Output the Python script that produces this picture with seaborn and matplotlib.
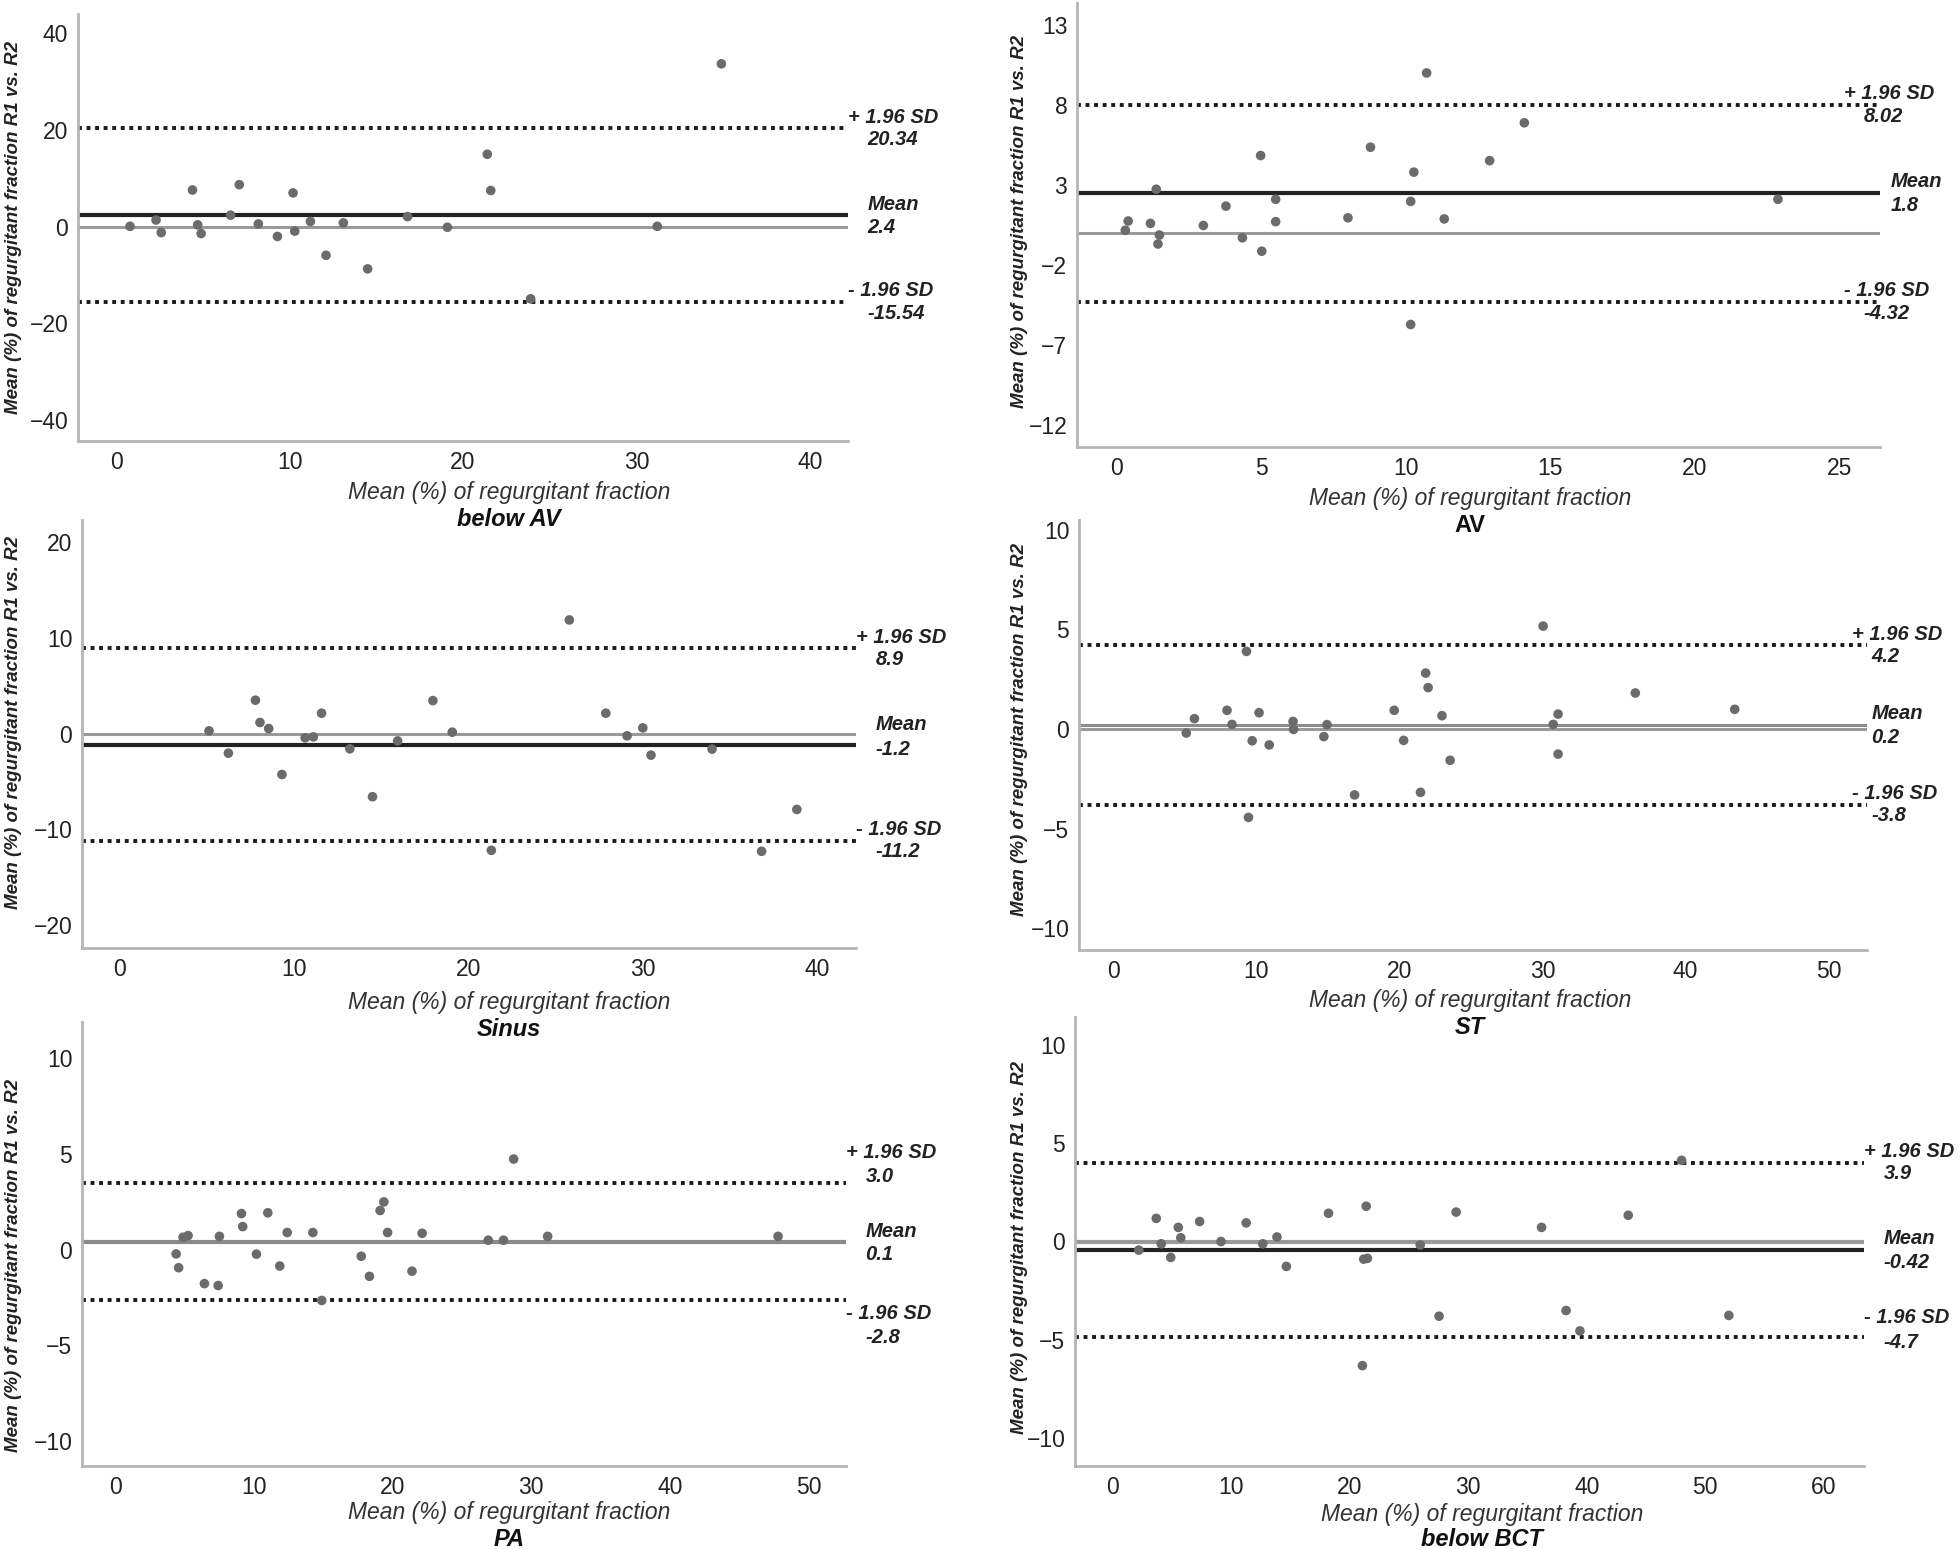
import seaborn as sns
import matplotlib.pyplot as plt
import pandas as pd

# ---- datos ----
below_av_x = [0.8, 2.3, 2.6, 4.4, 4.7, 4.9, 6.6, 7.1, 8.2, 9.3, 10.2, 10.3, 11.2, 12.1,
              13.1, 14.5, 16.8, 19.1, 21.4, 21.6, 23.9, 31.2, 34.9]
below_av_y = [0.1, 1.4, -1.2, 7.6, 0.4, -1.4, 2.4, 8.7, 0.6, -2.0, 7.0, -0.9, 1.1, -5.9,
              0.8, -8.7, 2.1, -0.1, 15.0, 7.5, -14.9, 0.1, 33.7]

av_x = [0.3, 0.4, 1.17, 1.37, 1.48, 1.43, 3.0, 3.78, 4.35, 4.98, 5.02, 5.5, 5.5, 8.0,
        8.78, 10.17, 10.28, 10.17, 10.72, 11.33, 12.9, 14.1, 22.87]
av_y = [0.17, 0.75, 0.6, 2.74, -0.13, -0.69, 0.47, 1.68, -0.3, 4.85, -1.14, 2.11, 0.71, 0.95,
        5.37, 1.98, 3.81, -5.73, 10.02, 0.88, 4.53, 6.9, 2.11]

sinus_x = [5.12, 6.23, 7.78, 8.04, 8.54, 9.3, 10.63, 11.1, 11.57, 13.19, 14.49, 15.93,
           17.95, 19.06, 21.3, 25.77, 27.86, 29.08, 29.98, 30.45, 33.95, 36.79, 38.81]
sinus_y = [0.28, -2.05, 3.48, 1.15, 0.52, -4.28, -0.45, -0.35, 2.12, -1.6, -6.6, -0.77,
           3.44, 0.14, -12.2, 11.86, 2.12, -0.24, 0.59, -2.26, -1.63, -12.3, -7.93]

st_x = [5.1, 5.67, 7.95, 8.3, 9.31, 9.45, 9.71, 10.19, 10.9, 12.57, 12.6, 14.72, 14.94,
        16.87, 19.64, 20.3, 21.48, 21.84, 22.01, 22.98, 23.55, 30.05, 30.76, 31.1, 31.1,
        36.5, 43.45]
st_y = [-0.2, 0.52, 0.94, 0.23, 3.9, -4.44, -0.59, 0.82, -0.8, 0.38, -0.02, -0.38, 0.22,
        -3.31, 0.94, -0.57, -3.18, 2.81, 2.08, 0.67, -1.57, 5.17, 0.23, 0.75, -1.26,
        1.81, 0.99]

pa_x = [4.39, 4.57, 4.89, 5.25, 6.43, 7.42, 7.51, 9.1, 9.19, 10.18, 11.0, 11.86, 12.4,
        14.25, 14.89, 17.74, 18.33, 19.1, 19.37, 19.64, 21.4, 22.13, 26.9, 28.0, 28.73,
        31.18, 47.8]
pa_y = [-0.22, -0.94, 0.65, 0.74, -1.77, -1.87, 0.7, 1.89, 1.21, -0.23, 1.93, -0.85, 0.9,
        0.9, -2.65, -0.34, -1.39, 2.05, 2.5, 0.9, -1.12, 0.86, 0.5, 0.5, 4.74, 0.7, 0.7]

below_bct_x = [2.18, 3.66, 4.08, 4.88, 5.52, 5.73, 7.32, 9.12, 11.25, 12.65, 13.85, 14.64,
               18.2, 21.17, 21.38, 21.48, 21.06, 25.94, 27.53, 28.97, 36.18, 38.25, 39.42,
               43.5, 48.0, 51.99]
below_bct_y = [-0.44, 1.18, -0.12, -0.81, 0.72, 0.19, 1.02, 0.0, 0.95, -0.12, 0.23, -1.27,
               1.44, -0.9, 1.8, -0.86, -6.33, -0.18, -3.81, 1.5, 0.72, -3.52, -4.56,
               1.34, 4.14, -3.77]

titles = ["below AV", "AV", "Sinus", "ST", "PA", "below BCT"]
xs = [below_av_x, av_x, sinus_x, st_x, pa_x, below_bct_x]
ys = [below_av_y, av_y, sinus_y, st_y, pa_y, below_bct_y]

# líneas: +1.96 SD, media, -1.96 SD (posición dibujada) y textos
upper_pos = [20.34, 8.02, 8.9, 4.2, 3.48, 4.02]
mean_pos = [2.4, 2.5, -1.2, 0.2, 0.38, -0.42]
lower_pos = [-15.54, -4.32, -11.2, -3.8, -2.61, -4.85]
upper_txt = ["20.34", "8.02", "8.9", "4.2", "3.0", "3.9"]
mean_txt = ["2.4", "1.8", "-1.2", "0.2", "0.1", "-0.42"]
lower_txt = ["-15.54", "-4.32", "-11.2", "-3.8", "-2.8", "-4.7"]

yticks = [[-40, -20, 0, 20, 40], [-12, -7, -2, 3, 8, 13], [-20, -10, 0, 10, 20],
          [-10, -5, 0, 5, 10], [-10, -5, 0, 5, 10], [-10, -5, 0, 5, 10]]
xticks = [[0, 10, 20, 30, 40], [0, 5, 10, 15, 20, 25], [0, 10, 20, 30, 40],
          [0, 10, 20, 30, 40, 50], [0, 10, 20, 30, 40, 50], [0, 10, 20, 30, 40, 50, 60]]

# ---- estilo / layout ----
W, H = 1960, 1549
ylims = [(-44.3, 44), (-13.4, 14.4), (-22.4, 22.3), (-11.1, 10.5), (-11.3, 11.9), (-11.45, 11.45)]
xlims = [(-2.2, 42.2), (-1.37, 26.4), (-2.16, 42.2), (-2.4, 52.7), (-2.4, 52.7), (-3.2, 63.4)]
# caja de ejes en píxeles: izquierda, arriba, derecha, abajo
boxes = [(78, 14, 848, 441), (1077, 3, 1880, 447), (82, 520, 856, 948),
         (1079, 520, 1867, 950), (82, 1022, 846, 1466), (1075, 1017, 1864, 1466)]
label_pos = [(509, 493, 519), (1470, 498, 526), (509, 1003, 1030),
             (1470, 1000, 1027), (509, 1513, 1539), (1482, 1514, 1539)]
ylabel_pos = [(14, 227), (1019, 221), (14, 723), (1019, 730), (14, 1266), (1019, 1248)]
head_dx = [0, -26, 0, -11, 0, 0]

sns.set_style("white")
narrow = ["Liberation Sans Narrow", "Liberation Sans", "DejaVu Sans"]
wide = ["Liberation Sans", "DejaVu Sans"]
plt.rcParams["font.family"] = narrow

fig = plt.figure(figsize=(W / 100, H / 100), dpi=100)

for i in range(6):
    l, t, r, b = boxes[i]
    ax = fig.add_axes([l / W, 1 - b / H, (r - l) / W, (b - t) / H])
    df = pd.DataFrame({"x": xs[i], "y": ys[i]})

    # líneas de referencia
    if i != 4:
        ax.axhline(0, color="#9a9a9a", lw=2.2 if i != 5 else 3, zorder=1)
    mcol = "#222222"
    if i == 3:
        mcol = "#8c8c8c"
    if i == 4:
        mcol = "#8a8a8a"
    ax.axhline(mean_pos[i], color=mcol, lw=3 if i != 3 else 2.2, zorder=1)
    for yv in (upper_pos[i], lower_pos[i]):
        ax.axhline(yv, color="#1a1a1a", lw=2.8, ls=(0, (1, 1.2)), zorder=1)

    sns.scatterplot(data=df, x="x", y="y", ax=ax, color="#6b6b6b", s=48,
                    edgecolor="none", zorder=3)

    ax.set_xlim(*xlims[i])
    ax.set_ylim(*ylims[i])
    ax.set_xticks(xticks[i])
    ax.set_yticks(yticks[i])
    ax.set_xlabel("")
    ax.set_ylabel("")
    ax.tick_params(length=0, labelsize=16.5, colors="#222222", pad=7)
    for s in ("top", "right"):
        ax.spines[s].set_visible(False)
    for s in ("left", "bottom"):
        ax.spines[s].set_color("#b5b5b5")
        ax.spines[s].set_linewidth(2)

    # textos a la derecha
    lab_kw = dict(xycoords=("axes fraction", "data"), textcoords="offset points",
                  fontsize=14.5, fontweight="bold", fontstyle="italic",
                  va="center", ha="left", annotation_clip=False, family=narrow,
                  color="#222222")
    up_off = (8, -8)
    lo_off = (8, -8)
    if i == 4:
        up_off = (22, 5)
        lo_off = (-10, -27)
    if i == 5:
        lo_off = (14, -4)
    ax.annotate("+ 1.96 SD", xy=(1, upper_pos[i]), xytext=(head_dx[i], up_off[0]), **lab_kw)
    ax.annotate(upper_txt[i], xy=(1, upper_pos[i]), xytext=(head_dx[i] + 14, up_off[1]), **lab_kw)
    m_off = (8, -9) if i != 2 else (15, -3)
    ax.annotate("Mean", xy=(1, mean_pos[i]), xytext=(head_dx[i] + 14 if i != 1 else 8, m_off[0]), **lab_kw)
    ax.annotate(mean_txt[i], xy=(1, mean_pos[i]), xytext=(head_dx[i] + 14 if i != 1 else 8, m_off[1]), **lab_kw)
    ax.annotate("- 1.96 SD", xy=(1, lower_pos[i]), xytext=(head_dx[i], lo_off[0]), **lab_kw)
    ax.annotate(lower_txt[i], xy=(1, lower_pos[i]), xytext=(head_dx[i] + 14, lo_off[1]), **lab_kw)

    # etiquetas de ejes y título del panel
    cx, ly, ty = label_pos[i]
    fig.text(cx / W, 1 - ly / H, "Mean (%) of regurgitant fraction", ha="center", va="center",
             fontsize=16.5, fontstyle="italic", family=narrow, color="#333333")
    fig.text(cx / W, 1 - ty / H, titles[i], ha="center", va="center", fontsize=17,
             fontweight="bold", fontstyle="normal" if i == 1 else "italic", family=narrow,
             color="#111111")
    yx, yy = ylabel_pos[i]
    fig.text(yx / W, 1 - yy / H, "Mean (%) of regurgitant fraction R1 vs. R2", rotation=90,
             ha="center", va="center", fontsize=13.5, fontweight="bold", fontstyle="italic",
             family=wide, color="#222222")

fig.savefig("out.png", dpi=100, facecolor="white")
